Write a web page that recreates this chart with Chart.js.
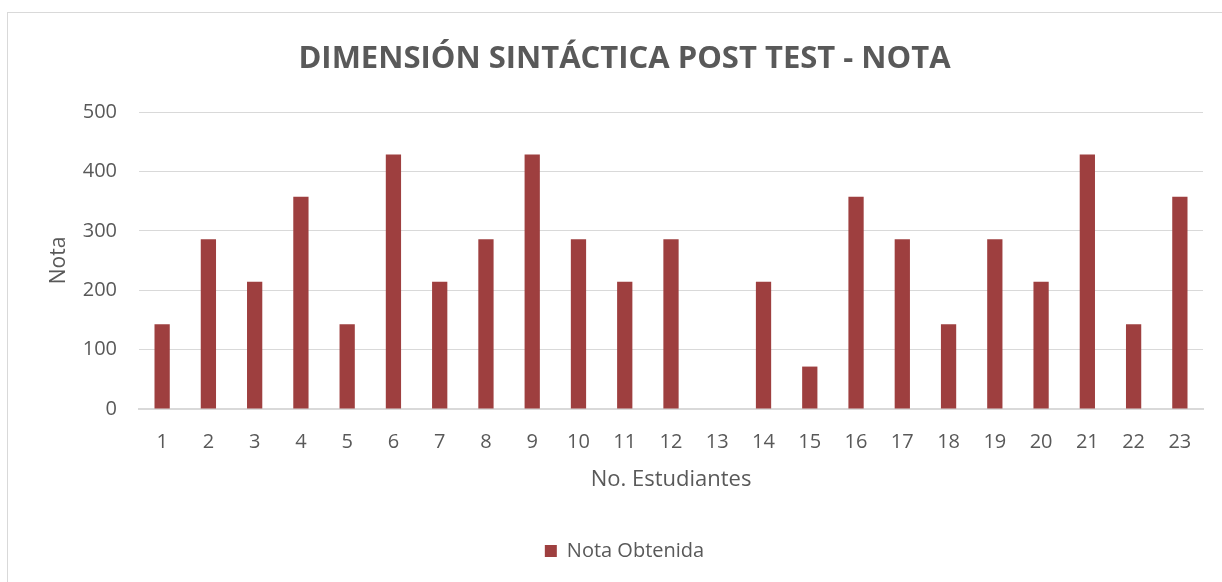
<!DOCTYPE html>
<html>
<head>
<meta charset="utf-8">
<script src="https://cdn.jsdelivr.net/npm/chart.js@4.4.1/dist/chart.umd.min.js"></script>
<style>
html,body{margin:0;padding:0;background:#fff;}
#wrap{position:relative;width:1222px;height:582px;}
</style>
</head>
<body>
<div id="wrap"><canvas id="c" width="1222" height="582"></canvas></div>
<script>
const categories = ["1","2","3","4","5","6","7","8","9","10","11","12","13","14","15","16","17","18","19","20","21","22","23"];
const notaObtenida = [142.86, 285.71, 214.29, 357.14, 142.86, 428.57, 214.29, 285.71, 428.57, 285.71, 214.29, 285.71, 0, 214.29, 71.43, 357.14, 285.71, 142.86, 285.71, 214.29, 428.57, 142.86, 357.14];
const yTicks = [0, 100, 200, 300, 400, 500];
const seriesName = "Nota Obtenida";
const chartTitle = "DIMENSIÓN SINTÁCTICA POST TEST - NOTA";
const xTitle = "No. Estudiantes";
const yTitle = "Nota";

const FONT = "'Open Sans', 'DejaVu Sans', sans-serif";
const TXT = "#595959";
const GRID = "#d9d9d9";

const borderPlugin = {
  id: 'outerBorder',
  beforeDraw(chart) {
    const ctx = chart.ctx;
    ctx.save();
    ctx.fillStyle = '#fff';
    ctx.fillRect(0, 0, chart.width, chart.height);
    ctx.strokeStyle = GRID;
    ctx.lineWidth = 1;
    ctx.strokeRect(7.5, 12.5, 1400, 800);
    ctx.restore();
  }
};

new Chart(document.getElementById('c'), {
  type: 'bar',
  data: {
    labels: categories,
    datasets: [{
      label: seriesName,
      data: notaObtenida,
      backgroundColor: '#9E3F3F',
      borderWidth: 0,
      categoryPercentage: 1,
      barPercentage: 0.33
    }]
  },
  options: {
    responsive: false,
    animation: false,
    devicePixelRatio: 1,
    layout: { padding: { left: 46, right: 19, top: 20, bottom: 11 } },
    plugins: {
      title: {
        display: true,
        text: chartTitle,
        color: TXT,
        font: { family: FONT, size: 31, weight: 'bold', lineHeight: 1.2 },
        padding: { top: 21, bottom: 33.8 }
      },
      legend: {
        display: true,
        position: 'bottom',
        labels: {
          color: TXT,
          font: { family: FONT, size: 20 },
          boxWidth: 12,
          boxHeight: 12,
          padding: 10
        }
      },
      tooltip: { enabled: false }
    },
    scales: {
      x: {
        afterFit(scale) { scale.height = 122; },
        grid: { display: false, drawTicks: false },
        border: { display: true, color: GRID, width: 2 },
        ticks: { color: TXT, font: { family: FONT, size: 20 }, padding: 21, maxRotation: 0, autoSkip: false },
        title: { display: true, text: xTitle, color: TXT, font: { family: FONT, size: 22 }, padding: { top: 0, bottom: 38 } }
      },
      y: {
        min: 0, max: 500,
        afterBuildTicks(scale) { scale.ticks = yTicks.map(v => ({ value: v })); },
        afterFit(scale) { scale.width = 139 - 46; },
        grid: { color: GRID, lineWidth: 1, drawTicks: false },
        border: { display: false },
        ticks: { color: TXT, font: { family: FONT, size: 20 }, padding: 22 },
        title: { display: true, text: yTitle, color: TXT, font: { family: FONT, size: 21 }, padding: { top: 0, bottom: 0 } }
      }
    }
  },
  plugins: [borderPlugin]
});
</script>
</body>
</html>
